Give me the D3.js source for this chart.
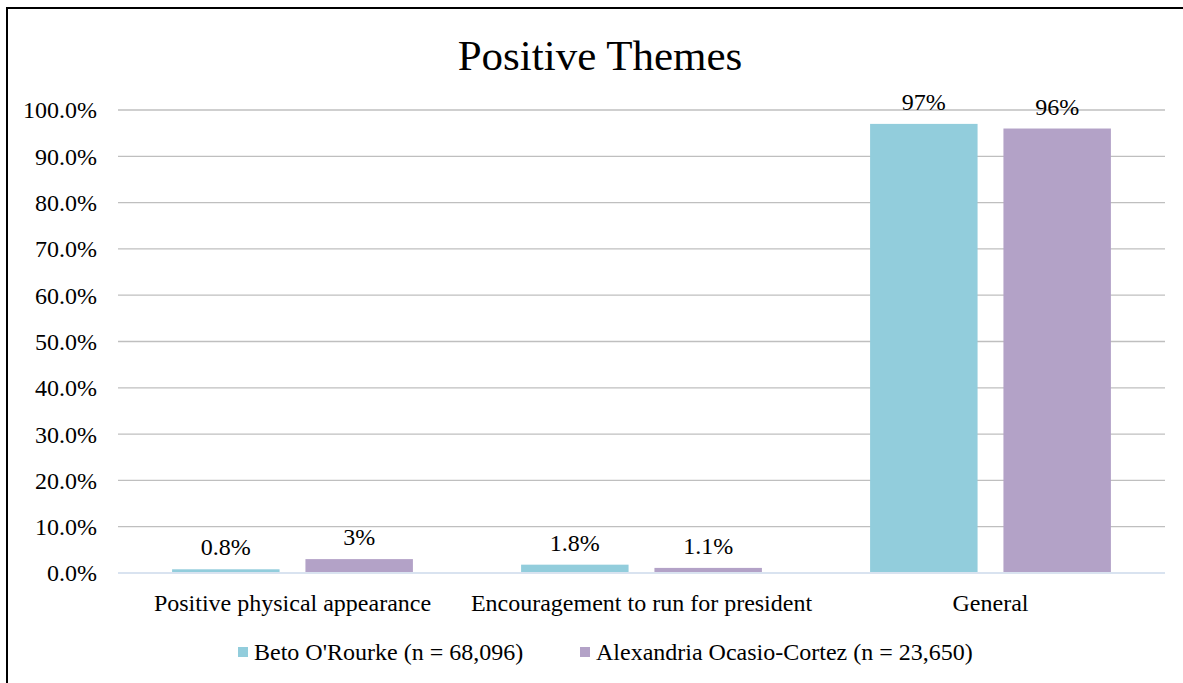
<!DOCTYPE html>
<html>
<head>
<meta charset="utf-8">
<script src="https://cdn.jsdelivr.net/npm/d3@7"></script>
<style>
  body { margin: 0; background: #fff; }
  svg text { font-family: "Liberation Serif", "Times New Roman", serif !important; fill: #000; }
</style>
</head>
<body>
<div id="chart"></div>
<script>
// data
let categories = ["Positive physical appearance", "Encouragement to run for president", "General"]
let seriesNames = ["Beto O'Rourke (n = 68,096)", "Alexandria Ocasio-Cortez (n = 23,650)"]
let betoValues = [0.8, 1.8, 97]
let aocValues = [3, 1.1, 96]
let betoLabels = ["0.8%", "1.8%", "97%"]
let aocLabels = ["3%", "1.1%", "96%"]
let yTicks = [0, 10, 20, 30, 40, 50, 60, 70, 80, 90, 100]
let colors = ["#92cddc", "#b3a2c7"]

let width = 1183, height = 683
let margin = {top: 110, right: 18, bottom: 110, left: 118}
let serif = '"Liberation Serif", "Times New Roman", serif'
let fs = 24

let svg = d3.select("#chart")
    .append("svg")
    .attr("width", width)
    .attr("height", height)
    .attr("font-family", serif)

// chart frame (runs off the right/bottom edge like the original)
svg.append("rect")
    .attr("x", 7)
    .attr("y", 8)
    .attr("width", width + 20)
    .attr("height", height + 20)
    .attr("fill", "none")
    .attr("stroke", "#000")
    .attr("stroke-width", 2)

svg.append("text")
    .attr("x", 600)
    .attr("y", 70)
    .attr("text-anchor", "middle")
    .style("font-size", "43px")
    .text("Positive Themes")

let x = d3.scaleBand()
    .domain(categories)
    .range([margin.left, width - margin.right])
    .paddingInner(0.31)
    .paddingOuter(0.155)

let xSub = d3.scaleBand()
    .domain([0, 1])
    .range([0, x.bandwidth()])
    .paddingInner(0.194)

let y = d3.scaleLinear()
    .domain([0, 100])
    .range([height - margin.bottom, margin.top])

// gridlines
svg.append("g")
    .selectAll("line")
    .data(yTicks.filter(d => d > 0))
    .enter()
    .append("line")
    .attr("x1", margin.left)
    .attr("x2", width - margin.right)
    .attr("y1", d => y(d))
    .attr("y2", d => y(d))
    .attr("stroke", "#bfbfbf")
    .attr("stroke-width", 1.3)

// y axis labels
let yAxis = svg.append("g")
    .attr("transform", `translate(${margin.left - 21}, 0)`)
    .call(d3.axisLeft(y).tickValues(yTicks).tickFormat(d => d.toFixed(1) + "%").tickSize(0).tickPadding(0))
yAxis.attr("font-family", serif).attr("font-size", fs)
yAxis.select(".domain").remove()
yAxis.selectAll("text")
    .attr("dy", "0.33em")

let rows = categories.map((c, i) => ({
    cat: c,
    vals: [betoValues[i], aocValues[i]],
    labels: [betoLabels[i], aocLabels[i]]
}))

let groups = svg.append("g")
    .selectAll("g")
    .data(rows)
    .enter()
    .append("g")
    .attr("transform", d => `translate(${x(d.cat)}, 0)`)

groups.selectAll("rect")
    .data(d => d.vals.map((v, j) => ({v: v, j: j})))
    .enter()
    .append("rect")
    .attr("x", d => xSub(d.j))
    .attr("width", xSub.bandwidth())
    .attr("y", d => y(d.v))
    .attr("height", d => y(0) - y(d.v))
    .attr("fill", d => colors[d.j])

groups.selectAll("text")
    .data(d => d.labels.map((l, j) => ({l: l, v: d.vals[j], j: j})))
    .enter()
    .append("text")
    .attr("x", d => xSub(d.j) + xSub.bandwidth() / 2)
    .attr("y", d => y(d.v) - 14)
    .attr("text-anchor", "middle")
    .style("font-size", fs + "px")
    .text(d => d.l)

// x axis line
svg.append("line")
    .attr("x1", margin.left)
    .attr("x2", width - margin.right)
    .attr("y1", y(0))
    .attr("y2", y(0))
    .attr("stroke", "#d9e3f0")
    .attr("stroke-width", 2)

let xAxis = svg.append("g")
    .attr("transform", `translate(0, ${y(0)})`)
    .call(d3.axisBottom(x).tickSize(0).tickPadding(0))
xAxis.attr("font-family", serif).attr("font-size", fs)
xAxis.select(".domain").remove()
xAxis.selectAll("text")
    .attr("y", 38)
    .attr("dy", 0)

// legend
let legendX = [238, 580]
let legend = svg.append("g")
legend.selectAll("rect")
    .data(seriesNames)
    .enter()
    .append("rect")
    .attr("x", (d, i) => legendX[i])
    .attr("y", 647)
    .attr("width", 10)
    .attr("height", 10)
    .attr("fill", (d, i) => colors[i])
legend.selectAll("text")
    .data(seriesNames)
    .enter()
    .append("text")
    .attr("x", (d, i) => legendX[i] + 16)
    .attr("y", 660)
    .style("font-size", fs + "px")
    .text(d => d)
</script>
</body>
</html>
